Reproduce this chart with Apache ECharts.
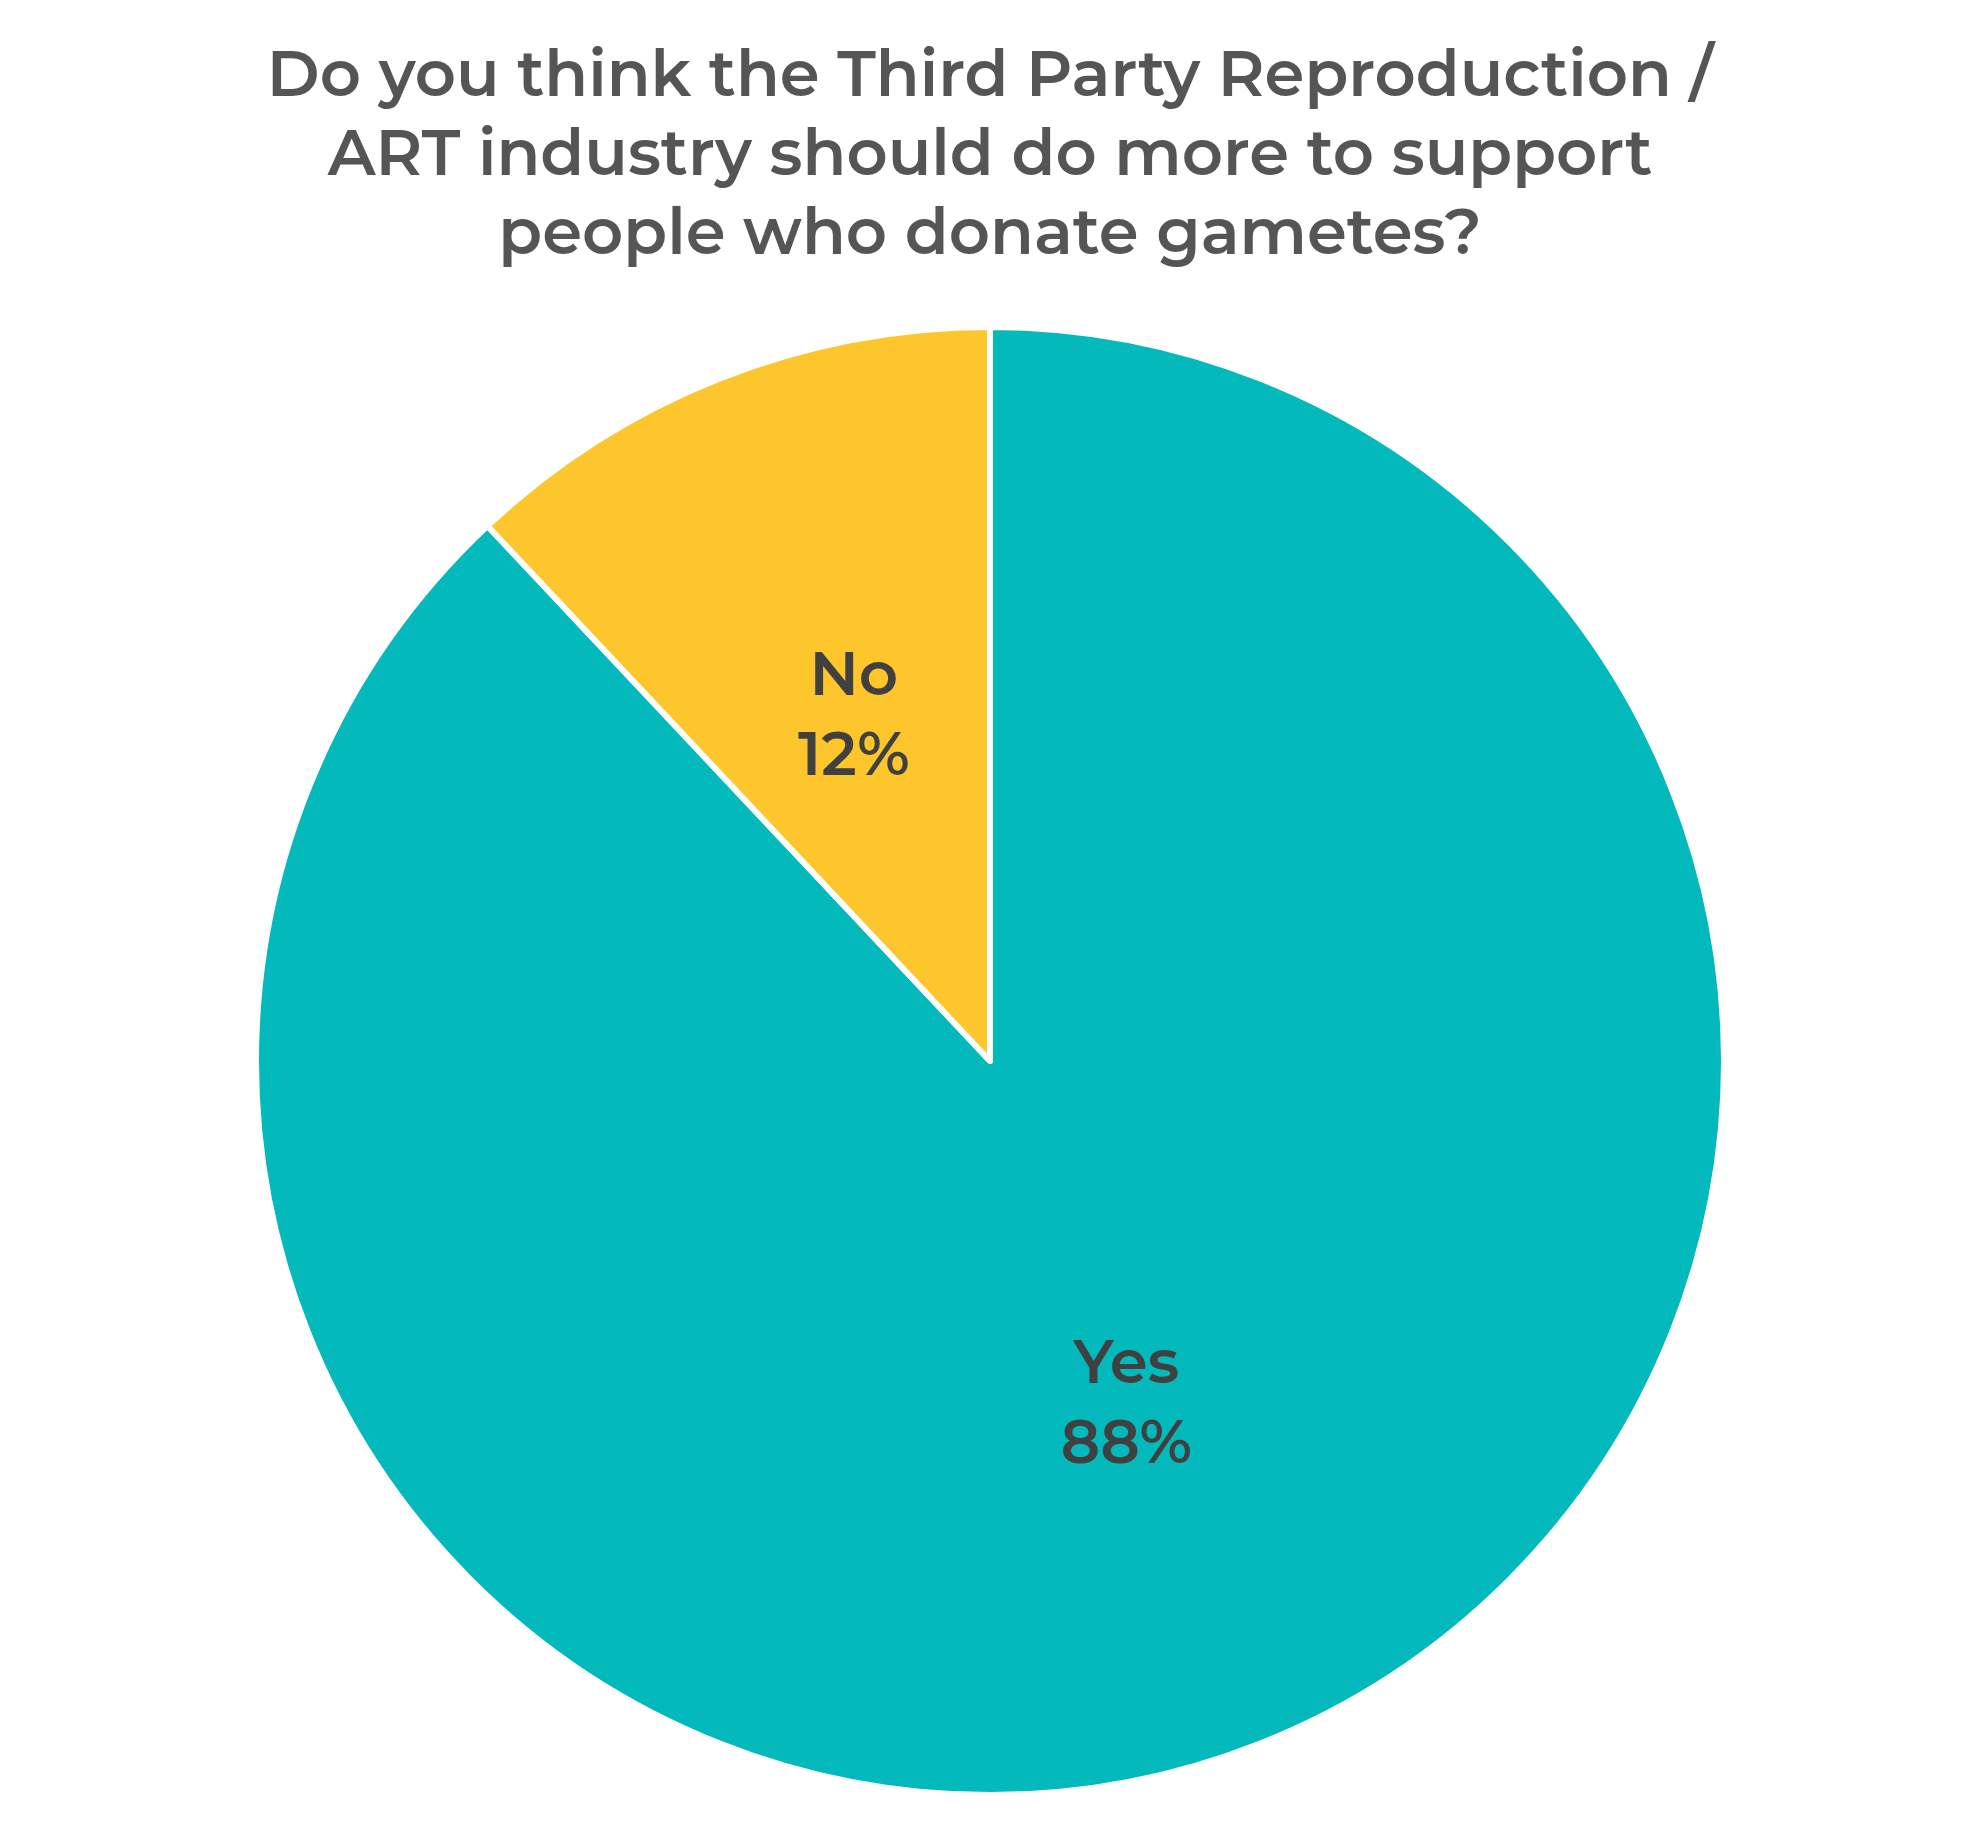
<!DOCTYPE html>
<html>
<head>
<meta charset="utf-8">
<script src="https://cdn.jsdelivr.net/npm/echarts@6/dist/echarts.min.js"></script>
<style>
html,body{margin:0;padding:0;background:#fff;}
#chart{width:1980px;height:1848px;}
</style>
</head>
<body>
<div id="chart"></div>
<script>
const titleText = "Do you think the Third Party Reproduction /\nART industry should do more to support\npeople who donate gametes?";
const categories = ["Yes", "No"];
const values = [88, 12];
const colors = ["#03B9BB", "#FDC62C"];

const chart = echarts.init(document.getElementById('chart'), null, {renderer: 'canvas'});
chart.setOption({
  backgroundColor: '#ffffff',
  animation: false,
  title: {
    text: titleText,
    left: 'center',
    top: 33,
    textStyle: {
      fontFamily: "Montserrat, 'Open Sans', sans-serif",
      fontWeight: 600,
      fontSize: 64,
      lineHeight: 79,
      color: '#555555'
    }
  },
  series: [{
    type: 'pie',
    center: [990, 1061],
    radius: [0, 734],
    startAngle: 90,
    clockwise: true,
    itemStyle: {borderColor: '#ffffff', borderWidth: 6},
    label: {
      show: true,
      position: 'inside',
      formatter: '{b}\n{d}%',
      fontFamily: "Montserrat, 'Open Sans', sans-serif",
      fontSize: 61,
      lineHeight: 80,
      fontWeight: 600,
      color: '#404040'
    },
    labelLine: {show: false},
    data: categories.map((c, i) => ({name: c, value: values[i], itemStyle: {color: colors[i]}}))
  }]
});
</script>
</body>
</html>
